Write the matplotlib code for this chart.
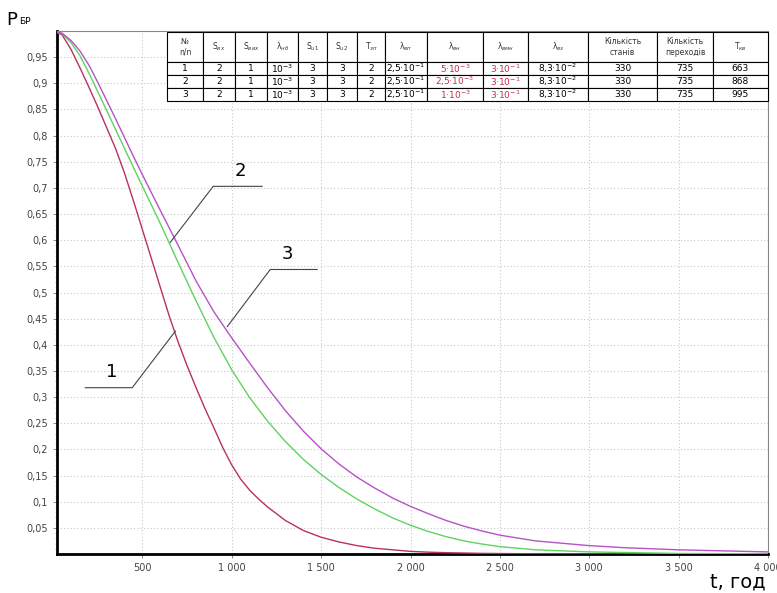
import matplotlib
matplotlib.use("Agg")
import matplotlib.pyplot as plt
import numpy as np

# curve readings, t in hours
t1 = [0, 50, 100, 150, 200, 250, 300, 350, 400, 450, 500, 550, 600, 650, 700, 750,
      800, 850, 900, 950, 1000, 1050, 1100, 1150, 1200, 1300, 1400, 1500, 1600, 1700,
      1800, 1900, 2000, 2100, 2200, 2400, 2600, 3000, 4000]
p1 = [1.0, 0.993, 0.965, 0.93, 0.893, 0.855, 0.815, 0.775, 0.728, 0.675, 0.62, 0.565,
      0.51, 0.455, 0.405, 0.36, 0.318, 0.278, 0.241, 0.203, 0.17, 0.143, 0.122, 0.105,
      0.09, 0.064, 0.045, 0.032, 0.023, 0.016, 0.011, 0.008, 0.005, 0.0035, 0.0025,
      0.0012, 0.0006, 0.0002, 0.0]

t2 = [0, 50, 100, 150, 200, 300, 400, 500, 600, 700, 800, 900, 1000, 1100, 1200, 1300,
      1400, 1500, 1600, 1700, 1800, 1900, 2000, 2100, 2200, 2300, 2400, 2500, 2700,
      3000, 3500, 4000]
p2 = [1.0, 0.995, 0.978, 0.953, 0.92, 0.848, 0.775, 0.703, 0.632, 0.557, 0.484, 0.414,
      0.352, 0.299, 0.254, 0.215, 0.181, 0.152, 0.127, 0.105, 0.086, 0.069, 0.055, 0.043,
      0.033, 0.025, 0.019, 0.014, 0.008, 0.004, 0.001, 0.0003]

t3 = [0, 50, 100, 150, 200, 250, 300, 350, 400, 450, 500, 600, 700, 800, 900, 1000,
      1100, 1200, 1300, 1400, 1500, 1600, 1700, 1800, 1900, 2000, 2100, 2200, 2300,
      2400, 2500, 2700, 3000, 3200, 3500, 4000]
p3 = [1.0, 0.996, 0.982, 0.962, 0.935, 0.902, 0.867, 0.832, 0.796, 0.76, 0.725, 0.657,
      0.59, 0.522, 0.463, 0.413, 0.365, 0.318, 0.274, 0.235, 0.201, 0.172, 0.147, 0.126,
      0.107, 0.091, 0.077, 0.064, 0.053, 0.044, 0.036, 0.025, 0.016, 0.012, 0.008, 0.004]

y_ticks = [0.05, 0.1, 0.15, 0.2, 0.25, 0.3, 0.35, 0.4, 0.45, 0.5, 0.55, 0.6, 0.65,
           0.7, 0.75, 0.8, 0.85, 0.9, 0.95]
x_ticks = [500, 1000, 1500, 2000, 2500, 3000, 3500, 4000]

header = ["№\nn/n", "S$_{вх}$", "S$_{вих}$", "λ$_{нб}$", "S$_{u1}$", "S$_{u2}$", "T$_{зп}$",
          "λ$_{вп}$", "λ$_{вн}$", "λ$_{вмн}$", "λ$_{вз}$", "Кількість\nстанів",
          "Кількість\nпереходів", "T$_{кв}$"]
rows = [
    ["1", "2", "1", "10$^{-3}$", "3", "3", "2", "2,5·10$^{-1}$", "5·10$^{-3}$",
     "3·10$^{-1}$", "8,3·10$^{-2}$", "330", "735", "663"],
    ["2", "2", "1", "10$^{-3}$", "3", "3", "2", "2,5·10$^{-1}$", "2,5·10$^{-3}$",
     "3·10$^{-1}$", "8,3·10$^{-2}$", "330", "735", "868"],
    ["3", "2", "1", "10$^{-3}$", "3", "3", "2", "2,5·10$^{-1}$", "1·10$^{-3}$",
     "3·10$^{-1}$", "8,3·10$^{-2}$", "330", "735", "995"],
]
red_cols = [8, 9]

fig = plt.figure(figsize=(7.77, 5.93), dpi=100)
ax = fig.add_axes([57 / 777, 1 - 554 / 593, 711 / 777, 523 / 593])

ax.plot(t1, p1, color="#b8325e", lw=1.0, zorder=3)
ax.plot(t2, p2, color="#5fd35f", lw=1.0, zorder=3)
ax.plot(t3, p3, color="#b653c6", lw=1.0, zorder=3)

ax.set_xlim(22, 4000)
ax.set_ylim(0, 1.0)
ax.set_xticks(x_ticks)
ax.set_xticklabels([f"{v:,}".replace(",", " ") for v in x_ticks])
ax.set_yticks(y_ticks)
ax.set_yticklabels([f"{v:g}".replace(".", ",") for v in y_ticks])
ax.set_yticks(np.arange(0.01, 1.0, 0.01), minor=True)
ax.tick_params(axis="both", labelsize=7, labelcolor="#444444", color="#777777",
               length=3, width=0.6)
ax.tick_params(axis="y", which="minor", length=1.5, width=0.4, color="#999999")
ax.grid(True, which="major", color="#c8c8c8", lw=0.8, ls=(0, (1, 2)))

for s in ["left", "bottom"]:
    ax.spines[s].set_linewidth(2.0)
    ax.spines[s].set_color("black")
for s in ["top", "right"]:
    ax.spines[s].set_linewidth(0.8)
    ax.spines[s].set_color("#888888")

# leader lines with curve numbers
lead = dict(color="#444444", lw=0.8, zorder=4)
ax.plot([684, 443, 180], [0.426, 0.318, 0.318], **lead)
ax.text(330, 0.33, "1", fontsize=13, ha="center", va="bottom")
ax.plot([656, 896, 1170], [0.596, 0.703, 0.703], **lead)
ax.text(1046, 0.715, "2", fontsize=13, ha="center", va="bottom")
ax.plot([975, 1215, 1478], [0.435, 0.544, 0.544], **lead)
ax.text(1310, 0.556, "3", fontsize=13, ha="center", va="bottom")

# parameter table
col_px = [167, 203, 235, 267, 298, 327, 357, 385, 427, 483, 528, 588, 657, 713, 768]
widths = np.diff(col_px)
tbl = ax.table(cellText=[header] + rows, colWidths=list(widths / widths.sum()),
               cellLoc="center", bbox=[(167 - 57) / 711, (554 - 101) / 523,
                                       601 / 711, 69 / 523], zorder=5)
tbl.auto_set_font_size(False)
for (r, c), cell in tbl.get_celld().items():
    cell.set_linewidth(0.8)
    cell.set_edgecolor("black")
    cell.set_facecolor("white")
    cell.set_height(30 if r == 0 else 13)
    txt = cell.get_text()
    txt.set_fontsize(5.5 if r == 0 else 6.5)
    if r == 0:
        txt.set_color("#333333")
    if r > 0 and c in red_cols:
        txt.set_color("#c0304a")
    cell.PAD = 0.02

fig.text(6 / 777, 1 - 20 / 593, "P", fontsize=13, va="center", ha="left")
fig.text(19 / 777, 1 - 22 / 593, "БР", fontsize=6.5, va="center", ha="left")
fig.text(766 / 777, 1 - 582 / 593, "t, год", fontsize=14, va="center", ha="right")

fig.savefig("out.png", dpi=100)
